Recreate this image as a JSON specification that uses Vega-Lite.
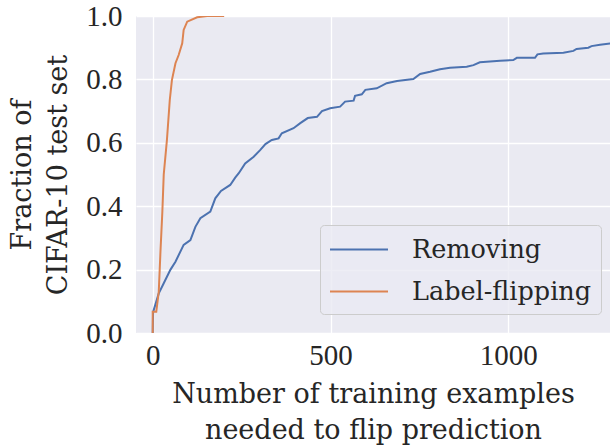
{
  "$schema": "https://vega.github.io/schema/vega-lite/v6.json",
  "width": 474,
  "height": 317,
  "autosize": {"type": "none"},
  "padding": {"left": 136, "top": 16, "right": 0, "bottom": 115},
  "background": "white",
  "config": {
    "view": {"fill": "#eaeaf2", "stroke": null},
    "font": "Liberation Serif",
    "axis": {
      "grid": true, "gridColor": "white", "gridWidth": 1.3,
      "domain": false, "ticks": false,
      "labelFont": "Liberation Serif", "labelFontSize": 29, "labelColor": "#262626",
      "titleFont": "DejaVu Serif", "titleFontSize": 27, "titleFontWeight": "normal", "titleColor": "#262626",
      "titleLineHeight": 36
    },
    "legend": {
      "labelFont": "DejaVu Serif", "labelFontSize": 25.5, "labelColor": "#262626", "labelLimit": 400
    }
  },
  "data": {
    "values": [
      {"method": "Removing", "x": 0, "y": 0.0},
      {"method": "Removing", "x": 1, "y": 0.065},
      {"method": "Removing", "x": 3, "y": 0.073},
      {"method": "Removing", "x": 17, "y": 0.125},
      {"method": "Removing", "x": 31, "y": 0.157},
      {"method": "Removing", "x": 50, "y": 0.2},
      {"method": "Removing", "x": 64, "y": 0.225},
      {"method": "Removing", "x": 87, "y": 0.278},
      {"method": "Removing", "x": 106, "y": 0.293},
      {"method": "Removing", "x": 120, "y": 0.335},
      {"method": "Removing", "x": 134, "y": 0.362},
      {"method": "Removing", "x": 162, "y": 0.383},
      {"method": "Removing", "x": 176, "y": 0.425},
      {"method": "Removing", "x": 192, "y": 0.448},
      {"method": "Removing", "x": 218, "y": 0.467},
      {"method": "Removing", "x": 232, "y": 0.49},
      {"method": "Removing", "x": 242, "y": 0.504},
      {"method": "Removing", "x": 260, "y": 0.535},
      {"method": "Removing", "x": 284, "y": 0.556},
      {"method": "Removing", "x": 302, "y": 0.577},
      {"method": "Removing", "x": 317, "y": 0.596},
      {"method": "Removing", "x": 335, "y": 0.609},
      {"method": "Removing", "x": 354, "y": 0.614},
      {"method": "Removing", "x": 363, "y": 0.63},
      {"method": "Removing", "x": 396, "y": 0.646},
      {"method": "Removing", "x": 415, "y": 0.662},
      {"method": "Removing", "x": 436, "y": 0.678},
      {"method": "Removing", "x": 462, "y": 0.682},
      {"method": "Removing", "x": 476, "y": 0.7},
      {"method": "Removing", "x": 499, "y": 0.709},
      {"method": "Removing", "x": 527, "y": 0.714},
      {"method": "Removing", "x": 541, "y": 0.73},
      {"method": "Removing", "x": 565, "y": 0.733},
      {"method": "Removing", "x": 569, "y": 0.748},
      {"method": "Removing", "x": 588, "y": 0.753},
      {"method": "Removing", "x": 598, "y": 0.767},
      {"method": "Removing", "x": 630, "y": 0.772},
      {"method": "Removing", "x": 658, "y": 0.788},
      {"method": "Removing", "x": 687, "y": 0.795},
      {"method": "Removing", "x": 733, "y": 0.801},
      {"method": "Removing", "x": 752, "y": 0.817},
      {"method": "Removing", "x": 780, "y": 0.824},
      {"method": "Removing", "x": 808, "y": 0.832},
      {"method": "Removing", "x": 836, "y": 0.837},
      {"method": "Removing", "x": 883, "y": 0.84},
      {"method": "Removing", "x": 902, "y": 0.845},
      {"method": "Removing", "x": 920, "y": 0.854},
      {"method": "Removing", "x": 977, "y": 0.859},
      {"method": "Removing", "x": 1014, "y": 0.861},
      {"method": "Removing", "x": 1024, "y": 0.868},
      {"method": "Removing", "x": 1075, "y": 0.868},
      {"method": "Removing", "x": 1082, "y": 0.879},
      {"method": "Removing", "x": 1098, "y": 0.882},
      {"method": "Removing", "x": 1155, "y": 0.884},
      {"method": "Removing", "x": 1183, "y": 0.89},
      {"method": "Removing", "x": 1192, "y": 0.896},
      {"method": "Removing", "x": 1225, "y": 0.9},
      {"method": "Removing", "x": 1234, "y": 0.905},
      {"method": "Removing", "x": 1258, "y": 0.909},
      {"method": "Removing", "x": 1295, "y": 0.915},
      {"method": "Label-flipping", "x": 0, "y": 0.0},
      {"method": "Label-flipping", "x": 0, "y": 0.067},
      {"method": "Label-flipping", "x": 10, "y": 0.067},
      {"method": "Label-flipping", "x": 17, "y": 0.13},
      {"method": "Label-flipping", "x": 22, "y": 0.262},
      {"method": "Label-flipping", "x": 27, "y": 0.38},
      {"method": "Label-flipping", "x": 31, "y": 0.5},
      {"method": "Label-flipping", "x": 40, "y": 0.609},
      {"method": "Label-flipping", "x": 48, "y": 0.735},
      {"method": "Label-flipping", "x": 54, "y": 0.798},
      {"method": "Label-flipping", "x": 64, "y": 0.851},
      {"method": "Label-flipping", "x": 73, "y": 0.877},
      {"method": "Label-flipping", "x": 83, "y": 0.914},
      {"method": "Label-flipping", "x": 87, "y": 0.956},
      {"method": "Label-flipping", "x": 97, "y": 0.982},
      {"method": "Label-flipping", "x": 125, "y": 0.996},
      {"method": "Label-flipping", "x": 153, "y": 1.0},
      {"method": "Label-flipping", "x": 201, "y": 1.0}
    ]
  },
  "mark": {"type": "line", "strokeWidth": 2, "clip": true},
  "encoding": {
    "x": {
      "field": "x", "type": "quantitative",
      "scale": {"domain": [-47, 1286], "nice": false, "zero": false},
      "axis": {"values": [0, 500, 1000], "format": "d", "title": ["Number of training examples", "needed to flip prediction"], "labelPadding": 8, "titlePadding": 11}
    },
    "y": {
      "field": "y", "type": "quantitative",
      "scale": {"domain": [0, 1], "nice": false},
      "axis": {"values": [0, 0.2, 0.4, 0.6, 0.8, 1.0], "format": ".1f", "title": ["Fraction of", "CIFAR-10 test set"], "labelPadding": 14, "titlePadding": 13}
    },
    "color": {
      "field": "method", "type": "nominal",
      "scale": {"domain": ["Removing", "Label-flipping"], "range": ["#4c72b0", "#dd8452"]},
      "legend": {
        "title": null, "orient": "none", "legendX": 184, "legendY": 209,
        "padding": 9, "fillColor": "rgba(234,234,242,0.8)", "strokeColor": "#cccccc", "cornerRadius": 4,
        "symbolType": "M-1,0H3", "symbolSize": 841, "symbolStrokeWidth": 2, "labelOffset": 52, "rowPadding": 13
      }
    },
    "order": {"field": "x"}
  }
}
